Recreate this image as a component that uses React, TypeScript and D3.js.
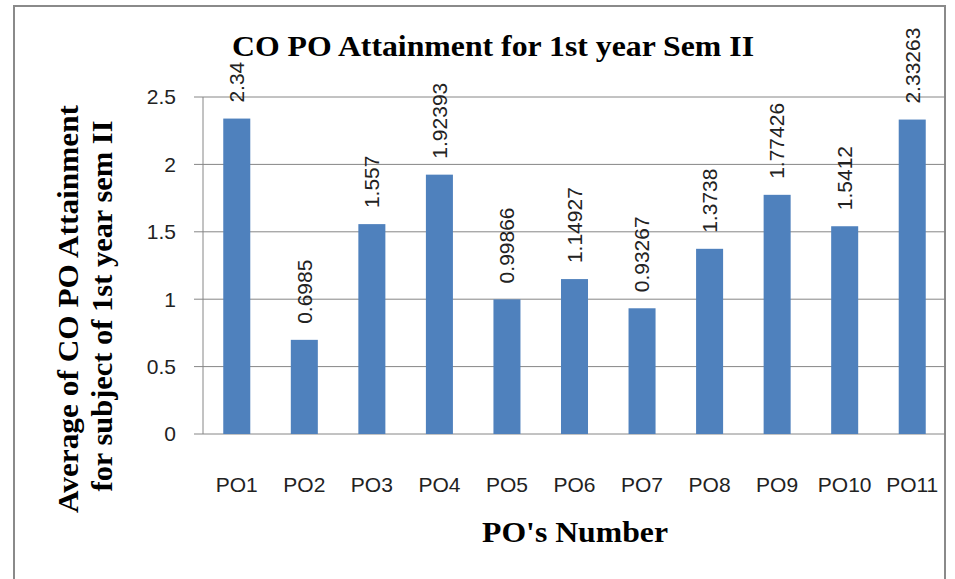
import React from "react";
import * as d3 from "d3";

const categories = ["PO1", "PO2", "PO3", "PO4", "PO5", "PO6", "PO7", "PO8", "PO9", "PO10", "PO11"];
const values = [2.34, 0.6985, 1.557, 1.92393, 0.99866, 1.14927, 0.93267, 1.3738, 1.77426, 1.5412, 2.33263];
const valueLabels = ["2.34", "0.6985", "1.557", "1.92393", "0.99866", "1.14927", "0.93267", "1.3738", "1.77426", "1.5412", "2.33263"];
const yTicks = [0, 0.5, 1, 1.5, 2, 2.5];

const W = 955;
const H = 579;
const plot = { left: 203, right: 946, top: 97, bottom: 434 };

const sans = "'Liberation Sans', Arial, sans-serif";
const serif = "'Liberation Serif', 'Times New Roman', serif";

export default function App() {
  const x = d3
    .scaleBand<string>()
    .domain(categories)
    .range([plot.left, plot.right])
    .paddingInner(0.6)
    .paddingOuter(0.3);
  const y = d3.scaleLinear().domain([0, 2.5]).range([plot.bottom, plot.top]);
  const fmt = d3.format("");

  return (
    <svg
      width={W}
      height={H}
      style={{ position: "absolute", left: 0, top: 0, background: "#fff" }}
    >
      {/* outer frame */}
      <rect x={14} y={6} width={931} height={620} fill="#fff" stroke="#8a8a8a" strokeWidth={2} />

      {/* title */}
      <text
        x={493}
        y={56}
        textAnchor="middle"
        fontFamily={serif}
        fontWeight="bold"
        fontSize={29}
        fill="#000"
        textLength={522}
        lengthAdjust="spacingAndGlyphs"
      >
        CO PO Attainment for 1st year Sem II
      </text>

      {/* gridlines + y ticks */}
      {yTicks.map((t) => (
        <g key={t}>
          <line x1={plot.left - 9} x2={plot.right} y1={y(t)} y2={y(t)} stroke="#868686" strokeWidth={1} />
          <text x={176} y={y(t)} dy="0.35em" textAnchor="end" fontFamily={sans} fontSize={21} fill="#222">
            {fmt(t)}
          </text>
        </g>
      ))}
      <line x1={plot.left} x2={plot.left} y1={plot.top} y2={plot.bottom} stroke="#868686" strokeWidth={1} />

      {/* bars */}
      {categories.map((c, i) => (
        <rect
          key={c}
          x={x(c)}
          y={y(values[i])}
          width={x.bandwidth()}
          height={y(0) - y(values[i])}
          fill="#4F81BD"
        />
      ))}

      {/* value labels */}
      {categories.map((c, i) => {
        const cx = (x(c) as number) + x.bandwidth() / 2;
        const cy = y(values[i]) - 16;
        return (
          <text
            key={c}
            transform={`translate(${cx},${cy}) rotate(-90)`}
            dy="0.35em"
            textAnchor="start"
            fontFamily={sans}
            fontSize={21}
            fill="#222"
          >
            {valueLabels[i]}
          </text>
        );
      })}

      {/* x labels */}
      {categories.map((c) => (
        <text
          key={c}
          x={(x(c) as number) + x.bandwidth() / 2}
          y={485}
          dy="0.35em"
          textAnchor="middle"
          fontFamily={sans}
          fontSize={21}
          fill="#222"
        >
          {c}
        </text>
      ))}

      {/* axis titles */}
      <text
        x={575}
        y={542}
        textAnchor="middle"
        fontFamily={serif}
        fontWeight="bold"
        fontSize={30}
        fill="#000"
        textLength={186}
        lengthAdjust="spacingAndGlyphs"
      >
        PO's Number
      </text>
      <text
        transform="translate(78,309) rotate(-90)"
        textAnchor="middle"
        fontFamily={serif}
        fontWeight="bold"
        fontSize={30}
        fill="#000"
        textLength={408}
        lengthAdjust="spacingAndGlyphs"
      >
        Average of CO PO Attainment
      </text>
      <text
        transform="translate(112,306) rotate(-90)"
        textAnchor="middle"
        fontFamily={serif}
        fontWeight="bold"
        fontSize={30}
        fill="#000"
        textLength={371}
        lengthAdjust="spacingAndGlyphs"
      >
        for subject of 1st year sem II
      </text>
    </svg>
  );
}
